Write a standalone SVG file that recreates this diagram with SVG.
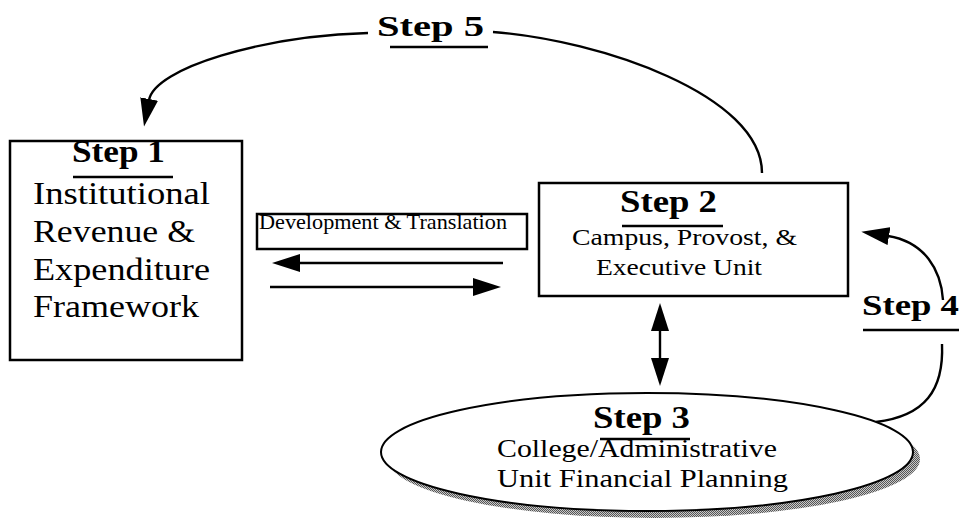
<svg xmlns="http://www.w3.org/2000/svg" width="959" height="532" viewBox="0 0 959 532">
<style>
.box{fill:#fff;stroke:#000;stroke-width:2.5}
.t{font-family:"Liberation Serif","Times New Roman",serif;fill:#000}
.b{font-weight:bold}
.ul{stroke:#000;stroke-width:2.5}
.con{fill:none;stroke:#000;stroke-width:2.4}
</style>
<defs>
<marker id="ah" viewBox="0 0 28 18" refX="1" refY="9" markerWidth="28" markerHeight="18" markerUnits="userSpaceOnUse" orient="auto-start-reverse">
<path d="M0,0 L28,9 L0,18 z" fill="#000"/>
</marker>
<pattern id="dots" width="2" height="2" patternUnits="userSpaceOnUse">
<rect width="2" height="2" fill="#c8c8c8"/>
<rect width="1" height="1" fill="#555"/>
<rect x="1" y="1" width="1" height="1" fill="#555"/>
</pattern>
</defs>
<rect width="959" height="532" fill="#fff"/>
<g id="connectors">
<path class="con" d="M368 33 C262 36,155 68,149 100" marker-end="url(#ah)"/>
<path class="con" d="M493 32 C600 40,762 95,762 173"/>
<path class="con" d="M503 263 L299 263" marker-end="url(#ah)"/>
<path class="con" d="M270 287 L474 287" marker-end="url(#ah)"/>
<path class="con" d="M660 330 L660 359" marker-start="url(#ah)" marker-end="url(#ah)"/>
<path class="con" d="M943 300 C941 270,925 242,888 236" marker-end="url(#ah)"/>
<path class="con" d="M942 344 C944 390,925 416,876 422"/>
</g>
<g id="step5">
<text class="t b" x="377" y="36" font-size="30" textLength="107" lengthAdjust="spacingAndGlyphs">Step 5</text>
<line class="ul" x1="390" y1="47" x2="488" y2="47"/>
</g>
<g id="step1">
<rect class="box" x="10" y="141" width="232" height="219"/>
<text class="t b" x="72" y="162" font-size="31" textLength="93" lengthAdjust="spacingAndGlyphs">Step 1</text>
<line class="ul" x1="73" y1="177" x2="173" y2="177"/>
<text class="t" x="33" y="204" font-size="32" textLength="177" lengthAdjust="spacingAndGlyphs">Institutional</text>
<text class="t" x="33" y="242" font-size="32" textLength="162" lengthAdjust="spacingAndGlyphs">Revenue &amp;</text>
<text class="t" x="33" y="280" font-size="32" textLength="177" lengthAdjust="spacingAndGlyphs">Expenditure</text>
<text class="t" x="33" y="317" font-size="32" textLength="166" lengthAdjust="spacingAndGlyphs">Framework</text>
</g>
<g id="devtrans">
<rect class="box" x="257" y="214" width="270" height="35" stroke-width="2.2"/>
<text class="t" x="259" y="229" font-size="21" textLength="248" lengthAdjust="spacingAndGlyphs">Development &amp; Translation</text>
</g>
<g id="step2">
<rect class="box" x="539" y="183" width="309" height="113"/>
<text class="t b" x="620" y="212" font-size="32" textLength="97" lengthAdjust="spacingAndGlyphs">Step 2</text>
<line class="ul" x1="622" y1="226" x2="723" y2="226"/>
<text class="t" x="572" y="245" font-size="24" textLength="225" lengthAdjust="spacingAndGlyphs">Campus, Provost, &amp;</text>
<text class="t" x="596" y="275" font-size="24" textLength="166" lengthAdjust="spacingAndGlyphs">Executive Unit</text>
</g>
<g id="step4">
<text class="t b" x="862" y="315" font-size="30" textLength="97" lengthAdjust="spacingAndGlyphs">Step 4</text>
<line class="ul" x1="863" y1="330" x2="959" y2="330"/>
</g>
<g id="step3">
<ellipse cx="654" cy="459" rx="266" ry="59" fill="url(#dots)"/>
<ellipse cx="647" cy="452" rx="266" ry="59" fill="#fff" stroke="#000" stroke-width="2"/>
<text class="t b" x="593" y="428" font-size="32" textLength="97" lengthAdjust="spacingAndGlyphs">Step 3</text>
<line class="ul" x1="600" y1="439" x2="690" y2="439" stroke-width="2"/>
<text class="t" x="497" y="457" font-size="26" textLength="280" lengthAdjust="spacingAndGlyphs">College/Administrative</text>
<text class="t" x="497" y="487" font-size="26" textLength="291" lengthAdjust="spacingAndGlyphs">Unit Financial Planning</text>
</g>
</svg>
